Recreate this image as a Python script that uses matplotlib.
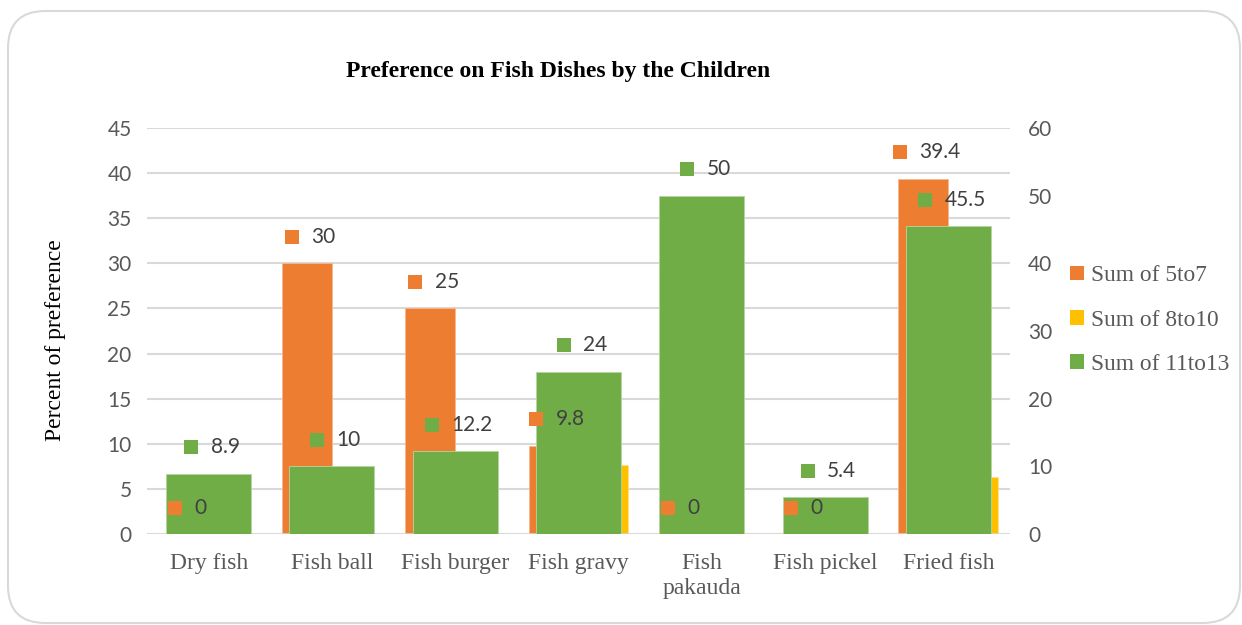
import matplotlib
matplotlib.use("Agg")
import matplotlib.pyplot as plt
import numpy as np
from matplotlib.patches import FancyBboxPatch, Patch, Rectangle
from matplotlib.offsetbox import AnnotationBbox, HPacker, DrawingArea, TextArea

categories = ["Dry fish", "Fish ball", "Fish burger", "Fish gravy", "Fish\npakauda", "Fish pickel", "Fried fish"]
sum_5to7 = [0, 30, 25, 9.8, 0, 0, 39.4]
sum_8to10 = [0, 0, 0, 7.6, 0, 0, 6.3]
sum_11to13 = [8.9, 10, 12.2, 24, 50, 5.4, 45.5]
left_ticks = [0, 5, 10, 15, 20, 25, 30, 35, 40, 45]
right_ticks = [0, 10, 20, 30, 40, 50, 60]

C_OR = "#ED7D31"
C_YE = "#FFC000"
C_GR = "#70AD47"
GRID = "#D9D9D9"
TXT = "#595959"
LBL = "#404040"
SANS = ["Lato", "DejaVu Sans"]
SERIF = ["Liberation Serif", "DejaVu Serif"]

W, H = 1242, 625
fig = plt.figure(figsize=(W / 100, H / 100), dpi=100)

# rounded border
border = FancyBboxPatch((8 / W, 2 / H), 1232 / W, 612 / H,
                        boxstyle="round,pad=0,rounding_size=0.03",
                        transform=fig.transFigure, facecolor="none",
                        edgecolor="#D9D9D9", linewidth=1.5, mutation_aspect=W / H, zorder=-5)
fig.patches.append(border)

x0, x1 = 147, 1010
y0, y1 = 534, 128
ax = fig.add_axes([x0 / W, 1 - y0 / H, (x1 - x0) / W, (y0 - y1) / H])
ax.patch.set_alpha(0)
ax2 = ax.twinx()
ax2.patch.set_alpha(0)

x = np.arange(len(categories))
bw = 0.405
ax.bar(x - bw / 2, sum_5to7, width=bw, color=C_OR, edgecolor="#F6B892", linewidth=0.6, zorder=3)
ax.bar(x + bw / 2, sum_8to10, width=bw, color=C_YE, edgecolor="#FFE08A", linewidth=0.6, zorder=3)
ax2.bar(x, sum_11to13, width=0.69, color=C_GR, edgecolor="#B5D6A0", linewidth=0.6, zorder=3)

ax.set_xlim(-0.5, len(categories) - 0.5)
ax.set_ylim(0, 45)
ax2.set_ylim(0, 60)
ax.set_yticks(left_ticks)
ax2.set_yticks(right_ticks)
ax.yaxis.grid(True, color=GRID, linewidth=1.5, zorder=0)
ax.set_axisbelow(True)
for a in (ax, ax2):
    for s in a.spines.values():
        s.set_visible(False)
    a.tick_params(axis="both", length=0)
ax.axhline(0, color=GRID, linewidth=1.8, zorder=4)

ax.set_xticks(x)
ax.set_xticklabels(categories, fontfamily=SERIF, fontsize=17, color=TXT, linespacing=1.25)
ax.tick_params(axis="x", pad=14)
for lab in ax.get_yticklabels():
    lab.set_fontfamily(SANS); lab.set_fontsize(15); lab.set_color(TXT)
for lab in ax2.get_yticklabels():
    lab.set_fontfamily(SANS); lab.set_fontsize(15); lab.set_color(TXT)
ax.tick_params(axis="y", pad=11)
ax2.tick_params(axis="y", pad=13)

ax.set_ylabel("Percent of preference", fontfamily=SERIF, fontsize=17, color="black")
ax.yaxis.set_label_coords(-0.094, 0.478)
fig.text(558 / W, 1 - 71 / H, "Preference on Fish Dishes by the Children",
         ha="center", va="center", fontfamily=SERIF, fontsize=17, fontweight="bold")


def add_label(xv, yv, transform, color, text):
    da = DrawingArea(10, 10, 0, 0)
    da.add_artist(Rectangle((0, 0), 10, 10, facecolor=color, edgecolor="none"))
    ta = TextArea(text, textprops=dict(fontfamily=SANS, fontsize=15, color=LBL))
    pack = HPacker(children=[da, ta], align="center", pad=0, sep=9)
    ab = AnnotationBbox(pack, (xv, yv), xycoords=transform, xybox=(2.5, 19),
                        boxcoords="offset points", box_alignment=(0.5, 0.5),
                        frameon=False, annotation_clip=False, pad=0)
    ab.set_zorder(10)
    ax2.add_artist(ab)


def fmt(v):
    return str(int(v)) if float(v).is_integer() else str(v)


for i in range(len(categories)):
    add_label(x[i] - bw / 2, sum_5to7[i], ax.transData, C_OR, fmt(sum_5to7[i]))
    add_label(x[i], sum_11to13[i], ax2.transData, C_GR, fmt(sum_11to13[i]))

handles = [Patch(facecolor=C_OR, label="Sum of 5to7"),
           Patch(facecolor=C_YE, label="Sum of 8to10"),
           Patch(facecolor=C_GR, label="Sum of 11to13")]
leg = fig.legend(handles=handles, loc="center left", bbox_to_anchor=(1049 / W, 1 - 320 / H),
                 frameon=False, handlelength=0.6, handleheight=0.6, handletextpad=0.3,
                 labelspacing=1.0, prop=dict(family=SERIF, size=16.8))
for t in leg.get_texts():
    t.set_color(TXT)

fig.savefig("out.png", dpi=100)
